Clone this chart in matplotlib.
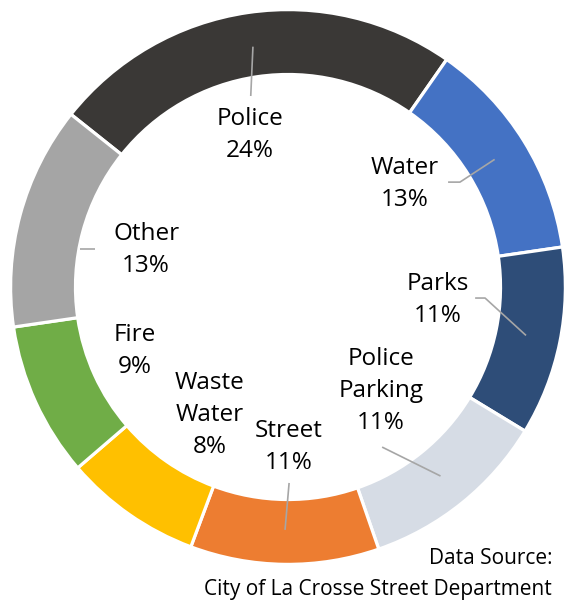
import numpy as np
import matplotlib.pyplot as plt

plt.rcParams['font.family'] = ['Open Sans', 'DejaVu Sans']

departments = ['Police', 'Water', 'Parks', 'Police\nParking', 'Street',
               'Waste\nWater', 'Fire', 'Other']
shares = [24, 13, 11, 11, 11, 8, 9, 13]
colors = ['#3A3836', '#4472C4', '#2E4D78', '#D6DCE5', '#ED7D31',
          '#FFC000', '#70AD47', '#A5A5A5']

# label block centres (outer radius = 1)
label_xy = [(-0.138, 0.551), (0.424, 0.373), (0.543, -0.047), (0.337, -0.377),
            (0.004, -0.580), (-0.283, -0.464), (-0.554, -0.232), (-0.514, 0.134)]

# leader lines: points near the label, the wedge end is added below
leaders = {
    0: [(-0.135, 0.692)],
    1: [(0.580, 0.380), (0.623, 0.380)],
    2: [(0.678, -0.040), (0.714, -0.040)],
    3: [(0.341, -0.580)],
    4: [(0.004, -0.710)],
    7: [(-0.699, 0.138)],
}

ring = 0.235

fig = plt.figure(figsize=(5.66, 6.01), dpi=100)
ax = fig.add_axes([0, 0, 1, 1])
wedges, _ = ax.pie(shares, colors=colors, startangle=141.5, counterclock=False,
                   radius=1.005,
                   wedgeprops=dict(width=ring, edgecolor='white', linewidth=2.3))

for i, (name, val) in enumerate(zip(departments, shares)):
    x, y = label_xy[i]
    ax.text(x, y, f'{name}\n{val}%', ha='center', va='center', fontsize=17.5,
            linespacing=1.45, color='black')
    if i in leaders:
        pts = list(leaders[i])
        if i == 7:
            # short line out to the inner rim
            y0 = pts[-1][1]
            pts.append((-np.sqrt((1 - ring) ** 2 - y0 ** 2), y0))
        else:
            w = wedges[i]
            mid = np.deg2rad((w.theta1 + w.theta2) / 2)
            pts.append((0.88 * np.cos(mid), 0.88 * np.sin(mid)))
        xs, ys = zip(*pts)
        ax.plot(xs, ys, color='#A6A6A6', lw=1.2, solid_capstyle='butt')

ax.text(0.957, -0.9855, 'Data Source:', ha='right', va='center', fontsize=15)
ax.text(0.957, -1.0978, 'City of La Crosse Street Department', ha='right',
        va='center', fontsize=15)

ax.set_xlim(-288 / 276, 278 / 276)
ax.set_ylim(-314 / 276, 287 / 276)
ax.axis('off')

fig.savefig('out.png', dpi=100)
